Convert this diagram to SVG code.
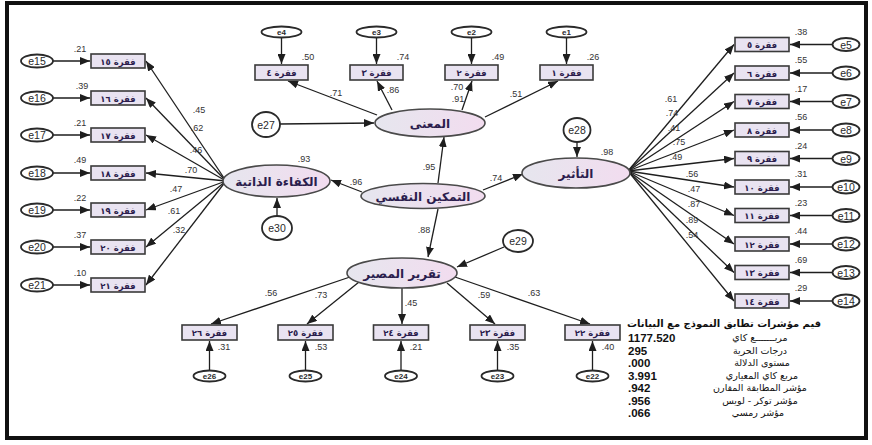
<svg xmlns="http://www.w3.org/2000/svg" width="872" height="445" viewBox="0 0 872 445">
<style>
.box{fill:#e9e3f1;stroke:#3a3a3a;stroke-width:1.6}
.bt{font-family:"DejaVu Sans",sans-serif;font-size:8.5px;font-weight:bold;fill:#2b1d4d;text-anchor:middle}
.lat{fill:url(#lg);stroke:#4a4a4a;stroke-width:1.6}
.lt{font-family:"DejaVu Sans",sans-serif;font-size:12px;font-weight:bold;fill:#2b1d4d;text-anchor:middle}
.err{fill:#fff;stroke:#2a2a2a;stroke-width:1.8}
.et{font-family:"Liberation Sans",Arial,sans-serif;font-size:10.5px;fill:#2a2a2a;text-anchor:middle}
.es{font-family:"Liberation Sans",Arial,sans-serif;font-size:8px;font-weight:bold;fill:#2a2a2a;text-anchor:middle}
.n{font-family:"Liberation Sans",Arial,sans-serif;font-size:9px;fill:#333;text-anchor:middle}
.c{stroke:#1e1e1e;stroke-width:1.3;fill:none;marker-end:url(#ah)}
.sv{font-family:"Liberation Sans",Arial,sans-serif;font-size:11.5px;font-weight:bold;fill:#111}
.sl{font-family:"DejaVu Sans",sans-serif;font-size:9.5px;fill:#111;text-anchor:middle}
.st{font-family:"DejaVu Sans",sans-serif;font-size:10px;font-weight:bold;fill:#111;text-anchor:middle}
</style>
<defs>
<linearGradient id="lg" x1="0" y1="0" x2="1" y2="0">
<stop offset="0" stop-color="#e6e6ee"/>
<stop offset="1" stop-color="#f2dcef"/>
</linearGradient>
<marker id="ah" viewBox="0 0 10 8" refX="10" refY="4" markerWidth="10" markerHeight="8" markerUnits="userSpaceOnUse" orient="auto">
<path d="M0,0 L10,4 L0,8 Z" fill="#1e1e1e"/>
</marker>
</defs>
<rect x="0" y="0" width="872" height="445" fill="#fff"/>
<rect x="7" y="3" width="859" height="435" fill="none" stroke="#111" stroke-width="4"/>

<g id="connectors">
<line class="c" x1="226" y1="181" x2="146" y2="61"/>
<line class="c" x1="226" y1="181" x2="146" y2="98"/>
<line class="c" x1="226" y1="181" x2="146" y2="135"/>
<line class="c" x1="226" y1="181" x2="146" y2="173"/>
<line class="c" x1="226" y1="181" x2="146" y2="210"/>
<line class="c" x1="226" y1="181" x2="146" y2="247"/>
<line class="c" x1="226" y1="181" x2="146" y2="285"/>
<line class="c" x1="53" y1="61" x2="90" y2="61"/>
<line class="c" x1="53" y1="98" x2="90" y2="98"/>
<line class="c" x1="53" y1="135" x2="90" y2="135"/>
<line class="c" x1="53" y1="173" x2="90" y2="173"/>
<line class="c" x1="53" y1="210" x2="90" y2="210"/>
<line class="c" x1="53" y1="247" x2="90" y2="247"/>
<line class="c" x1="53" y1="285" x2="90" y2="285"/>
<line class="c" x1="377" y1="115" x2="288" y2="81"/>
<line class="c" x1="392" y1="110" x2="377" y2="81"/>
<line class="c" x1="462" y1="110" x2="472" y2="81"/>
<line class="c" x1="485" y1="117" x2="558" y2="81"/>
<line class="c" x1="281.5" y1="37.5" x2="281.5" y2="64"/>
<line class="c" x1="376.5" y1="37.5" x2="376.5" y2="64"/>
<line class="c" x1="471.5" y1="37.5" x2="471.5" y2="64"/>
<line class="c" x1="566.5" y1="37.5" x2="566.5" y2="64"/>
<line class="c" x1="280" y1="124" x2="374" y2="123"/>
<line class="c" x1="438" y1="183" x2="444" y2="137"/>
<line class="c" x1="438" y1="209" x2="428" y2="257"/>
<line class="c" x1="483" y1="190" x2="523" y2="174"/>
<line class="c" x1="362" y1="192" x2="331" y2="180"/>
<line class="c" x1="277" y1="216" x2="277" y2="198"/>
<line class="c" x1="577" y1="142" x2="577" y2="157"/>
<line class="c" x1="504" y1="247" x2="457" y2="267"/>
<line class="c" x1="350" y1="277" x2="211" y2="324"/>
<line class="c" x1="359" y1="282" x2="307" y2="324"/>
<line class="c" x1="402" y1="288" x2="402" y2="324"/>
<line class="c" x1="447" y1="283" x2="495" y2="324"/>
<line class="c" x1="455" y1="277" x2="590" y2="324"/>
<line class="c" x1="209.5" y1="370.5" x2="209.5" y2="341"/>
<line class="c" x1="305.5" y1="370.5" x2="305.5" y2="341"/>
<line class="c" x1="401" y1="370.5" x2="401" y2="341"/>
<line class="c" x1="497.5" y1="370.5" x2="497.5" y2="341"/>
<line class="c" x1="592.5" y1="370.5" x2="592.5" y2="341"/>
<line class="c" x1="628" y1="171" x2="734" y2="44.5"/>
<line class="c" x1="628" y1="171" x2="734" y2="73"/>
<line class="c" x1="628" y1="171" x2="734" y2="101.5"/>
<line class="c" x1="628" y1="171" x2="734" y2="130"/>
<line class="c" x1="628" y1="171" x2="734" y2="158.5"/>
<line class="c" x1="628" y1="171" x2="734" y2="187"/>
<line class="c" x1="628" y1="171" x2="734" y2="215.5"/>
<line class="c" x1="628" y1="171" x2="734" y2="244"/>
<line class="c" x1="628" y1="171" x2="734" y2="272.5"/>
<line class="c" x1="628" y1="171" x2="734" y2="301"/>
<line class="c" x1="832.5" y1="44.5" x2="790" y2="44.5"/>
<line class="c" x1="832.5" y1="73" x2="790" y2="73"/>
<line class="c" x1="832.5" y1="101.5" x2="790" y2="101.5"/>
<line class="c" x1="832.5" y1="130" x2="790" y2="130"/>
<line class="c" x1="832.5" y1="158.5" x2="790" y2="158.5"/>
<line class="c" x1="832.5" y1="187" x2="790" y2="187"/>
<line class="c" x1="832.5" y1="215.5" x2="790" y2="215.5"/>
<line class="c" x1="832.5" y1="244" x2="790" y2="244"/>
<line class="c" x1="832.5" y1="272.5" x2="790" y2="272.5"/>
<line class="c" x1="832.5" y1="301" x2="790" y2="301"/>
</g>

<g id="n-muana"><ellipse class="lat" cx="430" cy="123" rx="55" ry="14"/><text class="lt" x="430" y="127.5" direction="rtl">المعنى</text></g>
<g id="n-tamkeen"><ellipse class="lat" cx="423" cy="196" rx="62" ry="12.5"/><text class="lt" x="423" y="200.5" direction="rtl">التمكين النفسي</text></g>
<g id="n-kafaa"><ellipse class="lat" cx="276.5" cy="181" rx="53.5" ry="16"/><text class="lt" x="276.5" y="185.5" direction="rtl">الكفاءة الذاتية</text></g>
<g id="n-taathir"><ellipse class="lat" cx="576" cy="173" rx="54" ry="15"/><text class="lt" x="576" y="177.5" direction="rtl">التأثير</text></g>
<g id="n-taqrir"><ellipse class="lat" cx="402" cy="273" rx="55" ry="15"/><text class="lt" x="402" y="277.5" direction="rtl">تقرير المصير</text></g>

<g id="e27"><ellipse class="err" cx="266" cy="124.5" rx="14" ry="12.5"/><text class="et" x="266" y="128.5">e27</text></g>
<g id="e28"><ellipse class="err" cx="577" cy="130" rx="13.5" ry="12"/><text class="et" x="577" y="134">e28</text></g>
<g id="e29"><ellipse class="err" cx="518" cy="241" rx="15" ry="11"/><text class="et" x="518" y="245">e29</text></g>
<g id="e30"><ellipse class="err" cx="277" cy="228" rx="15" ry="12"/><text class="et" x="277" y="232">e30</text></g>

<g id="structural-labels">
<text class="n" x="429" y="170">.95</text>
<text class="n" x="424" y="233">.88</text>
<text class="n" x="496" y="181">.74</text>
<text class="n" x="356" y="185">.96</text>
<text class="n" x="304" y="162">.93</text>
<text class="n" x="607" y="155">.98</text>
</g>

<g id="item15"><ellipse class="err" cx="37" cy="61" rx="16" ry="6.5"/><text class="et" x="37" y="65">e15</text><rect class="box" x="91" y="54" width="54" height="14"/><text class="bt" x="118" y="64.5" direction="rtl">فقرة ١٥</text><text class="n" x="80" y="52">.21</text><text class="n" x="199" y="113">.45</text></g>
<g id="item16"><ellipse class="err" cx="37" cy="98" rx="16" ry="6.5"/><text class="et" x="37" y="102">e16</text><rect class="box" x="91" y="91" width="54" height="14"/><text class="bt" x="118" y="101.5" direction="rtl">فقرة ١٦</text><text class="n" x="82" y="89">.39</text><text class="n" x="197" y="131">.62</text></g>
<g id="item17"><ellipse class="err" cx="37" cy="135" rx="16" ry="6.5"/><text class="et" x="37" y="139">e17</text><rect class="box" x="91" y="128" width="54" height="14"/><text class="bt" x="118" y="138.5" direction="rtl">فقرة ١٧</text><text class="n" x="80" y="126">.21</text><text class="n" x="196" y="153">.46</text></g>
<g id="item18"><ellipse class="err" cx="37" cy="173" rx="16" ry="6.5"/><text class="et" x="37" y="177">e18</text><rect class="box" x="91" y="166" width="54" height="14"/><text class="bt" x="118" y="176.5" direction="rtl">فقرة ١٨</text><text class="n" x="80" y="163">.49</text><text class="n" x="191" y="173">.70</text></g>
<g id="item19"><ellipse class="err" cx="37" cy="210" rx="16" ry="6.5"/><text class="et" x="37" y="214">e19</text><rect class="box" x="91" y="203" width="54" height="14"/><text class="bt" x="118" y="213.5" direction="rtl">فقرة ١٩</text><text class="n" x="80" y="201">.22</text><text class="n" x="176" y="192">.47</text></g>
<g id="item20"><ellipse class="err" cx="37" cy="247" rx="16" ry="6.5"/><text class="et" x="37" y="251">e20</text><rect class="box" x="91" y="240" width="54" height="14"/><text class="bt" x="118" y="250.5" direction="rtl">فقرة ٢٠</text><text class="n" x="80" y="238">.37</text><text class="n" x="174" y="214">.61</text></g>
<g id="item21"><ellipse class="err" cx="37" cy="285" rx="16" ry="6.5"/><text class="et" x="37" y="289">e21</text><rect class="box" x="91" y="278" width="54" height="14"/><text class="bt" x="118" y="288.5" direction="rtl">فقرة ٢١</text><text class="n" x="80" y="276">.10</text><text class="n" x="179" y="233">.32</text></g>

<g id="item4"><ellipse class="err" cx="281.5" cy="32" rx="20" ry="5.5"/><text class="es" x="281.5" y="35">e4</text><rect class="box" x="255" y="65" width="53" height="15"/><text class="bt" x="281.5" y="76" direction="rtl">فقرة ٤</text><text class="n" x="308" y="60">.50</text><text class="n" x="336" y="96">.71</text></g>
<g id="item3"><ellipse class="err" cx="376.5" cy="32" rx="20" ry="5.5"/><text class="es" x="376.5" y="35">e3</text><rect class="box" x="350" y="65" width="53" height="15"/><text class="bt" x="376.5" y="76" direction="rtl">فقرة ٣</text><text class="n" x="403" y="60">.74</text><text class="n" x="393" y="93">.86</text></g>
<g id="item2"><ellipse class="err" cx="471.5" cy="32" rx="20" ry="5.5"/><text class="es" x="471.5" y="35">e2</text><rect class="box" x="445" y="65" width="53" height="15"/><text class="bt" x="471.5" y="76" direction="rtl">فقرة ٢</text><text class="n" x="498" y="60">.49</text><text class="n" x="457" y="90">.70</text><text class="n" x="458" y="102">.91</text></g>
<g id="item1"><ellipse class="err" cx="566.5" cy="32" rx="20" ry="5.5"/><text class="es" x="566.5" y="35">e1</text><rect class="box" x="540" y="65" width="53" height="15"/><text class="bt" x="566.5" y="76" direction="rtl">فقرة ١</text><text class="n" x="593" y="60">.26</text><text class="n" x="516" y="97">.51</text></g>

<g id="item5"><rect class="box" x="735" y="37.5" width="54" height="14"/><text class="bt" x="762" y="48" direction="rtl">فقرة ٥</text><ellipse class="err" cx="846" cy="44.5" rx="13.5" ry="6.5"/><text class="et" x="846" y="48.5">e5</text><text class="n" x="801" y="35">.38</text><text class="n" x="671" y="102">.61</text></g>
<g id="item6"><rect class="box" x="735" y="66" width="54" height="14"/><text class="bt" x="762" y="76.5" direction="rtl">فقرة ٦</text><ellipse class="err" cx="846" cy="73" rx="13.5" ry="6.5"/><text class="et" x="846" y="77">e6</text><text class="n" x="801" y="63">.55</text><text class="n" x="672" y="116">.74</text></g>
<g id="item7"><rect class="box" x="735" y="94.5" width="54" height="14"/><text class="bt" x="762" y="105" direction="rtl">فقرة ٧</text><ellipse class="err" cx="846" cy="101.5" rx="13.5" ry="6.5"/><text class="et" x="846" y="105.5">e7</text><text class="n" x="801" y="92">.17</text><text class="n" x="674" y="131">.41</text></g>
<g id="item8"><rect class="box" x="735" y="123" width="54" height="14"/><text class="bt" x="762" y="133.5" direction="rtl">فقرة ٨</text><ellipse class="err" cx="846" cy="130" rx="13.5" ry="6.5"/><text class="et" x="846" y="134">e8</text><text class="n" x="801" y="120">.56</text><text class="n" x="679" y="145">.75</text></g>
<g id="item9"><rect class="box" x="735" y="151.5" width="54" height="14"/><text class="bt" x="762" y="162" direction="rtl">فقرة ٩</text><ellipse class="err" cx="846" cy="158.5" rx="13.5" ry="6.5"/><text class="et" x="846" y="162.5">e9</text><text class="n" x="801" y="149">.24</text><text class="n" x="676" y="160">.49</text></g>
<g id="item10"><rect class="box" x="735" y="180" width="54" height="14"/><text class="bt" x="762" y="190.5" direction="rtl">فقرة ١٠</text><ellipse class="err" cx="846" cy="187" rx="13.5" ry="6.5"/><text class="et" x="846" y="191">e10</text><text class="n" x="801" y="177">.31</text><text class="n" x="692" y="177">.56</text></g>
<g id="item11"><rect class="box" x="735" y="208.5" width="54" height="14"/><text class="bt" x="762" y="219" direction="rtl">فقرة ١١</text><ellipse class="err" cx="846" cy="215.5" rx="13.5" ry="6.5"/><text class="et" x="846" y="219.5">e11</text><text class="n" x="801" y="206">.23</text><text class="n" x="694" y="192">.47</text></g>
<g id="item12"><rect class="box" x="735" y="237" width="54" height="14"/><text class="bt" x="762" y="247.5" direction="rtl">فقرة ١٢</text><ellipse class="err" cx="846" cy="244" rx="13.5" ry="6.5"/><text class="et" x="846" y="248">e12</text><text class="n" x="801" y="234">.44</text><text class="n" x="694" y="207">.87</text></g>
<g id="item13"><rect class="box" x="735" y="265.5" width="54" height="14"/><text class="bt" x="762" y="276" direction="rtl">فقرة ١٣</text><ellipse class="err" cx="846" cy="272.5" rx="13.5" ry="6.5"/><text class="et" x="846" y="276.5">e13</text><text class="n" x="801" y="263">.69</text><text class="n" x="692" y="223">.89</text></g>
<g id="item14"><rect class="box" x="735" y="294" width="54" height="14"/><text class="bt" x="762" y="304.5" direction="rtl">فقرة ١٤</text><ellipse class="err" cx="846" cy="301" rx="13.5" ry="6.5"/><text class="et" x="846" y="305">e14</text><text class="n" x="801" y="291">.29</text><text class="n" x="692" y="238">.54</text></g>

<g id="item26"><rect class="box" x="182" y="325" width="55" height="15"/><text class="bt" x="209.5" y="336" direction="rtl">فقرة ٢٦</text><ellipse class="err" cx="209.5" cy="376" rx="16" ry="5.5"/><text class="es" x="209.5" y="379">e26</text><text class="n" x="224" y="350">.31</text><text class="n" x="271" y="296">.56</text></g>
<g id="item25"><rect class="box" x="278" y="325" width="55" height="15"/><text class="bt" x="305.5" y="336" direction="rtl">فقرة ٢٥</text><ellipse class="err" cx="305.5" cy="376" rx="16" ry="5.5"/><text class="es" x="305.5" y="379">e25</text><text class="n" x="321" y="350">.53</text><text class="n" x="321" y="298">.73</text></g>
<g id="item24"><rect class="box" x="373.5" y="325" width="55" height="15"/><text class="bt" x="401" y="336" direction="rtl">فقرة ٢٤</text><ellipse class="err" cx="401" cy="376" rx="16" ry="5.5"/><text class="es" x="401" y="379">e24</text><text class="n" x="416" y="350">.21</text><text class="n" x="411" y="306">.45</text></g>
<g id="item23"><rect class="box" x="470" y="325" width="55" height="15"/><text class="bt" x="497.5" y="336" direction="rtl">فقرة ٢٣</text><ellipse class="err" cx="497.5" cy="376" rx="16" ry="5.5"/><text class="es" x="497.5" y="379">e23</text><text class="n" x="513" y="350">.35</text><text class="n" x="484" y="298">.59</text></g>
<g id="item22"><rect class="box" x="565" y="325" width="55" height="15"/><text class="bt" x="592.5" y="336" direction="rtl">فقرة ٢٢</text><ellipse class="err" cx="592.5" cy="376" rx="16" ry="5.5"/><text class="es" x="592.5" y="379">e22</text><text class="n" x="608" y="350">.40</text><text class="n" x="534" y="296">.63</text></g>

<g id="fit-indices">
<text class="st" x="724" y="327" direction="rtl">قيم مؤشرات تطابق النموذج مع البيانات</text>
<text class="sv" x="628" y="342">1177.520</text><text class="sl" x="760" y="341" direction="rtl">مربـــــــع كاي</text>
<text class="sv" x="628" y="354.5">295</text><text class="sl" x="760" y="353.5" direction="rtl">درجات الحرية</text>
<text class="sv" x="628" y="367">.000</text><text class="sl" x="762" y="366" direction="rtl">مستوى الدلالة</text>
<text class="sv" x="628" y="379.5">3.991</text><text class="sl" x="762" y="378.5" direction="rtl">مربع كاي المعياري</text>
<text class="sv" x="628" y="392">.942</text><text class="sl" x="760" y="391" direction="rtl">مؤشر المطابقة المقارن</text>
<text class="sv" x="628" y="404.5">.956</text><text class="sl" x="760" y="403.5" direction="rtl">مؤشر توكر - لويس</text>
<text class="sv" x="628" y="417">.066</text><text class="sl" x="758" y="416" direction="rtl">مؤشر رمسي</text>
</g>
</svg>
